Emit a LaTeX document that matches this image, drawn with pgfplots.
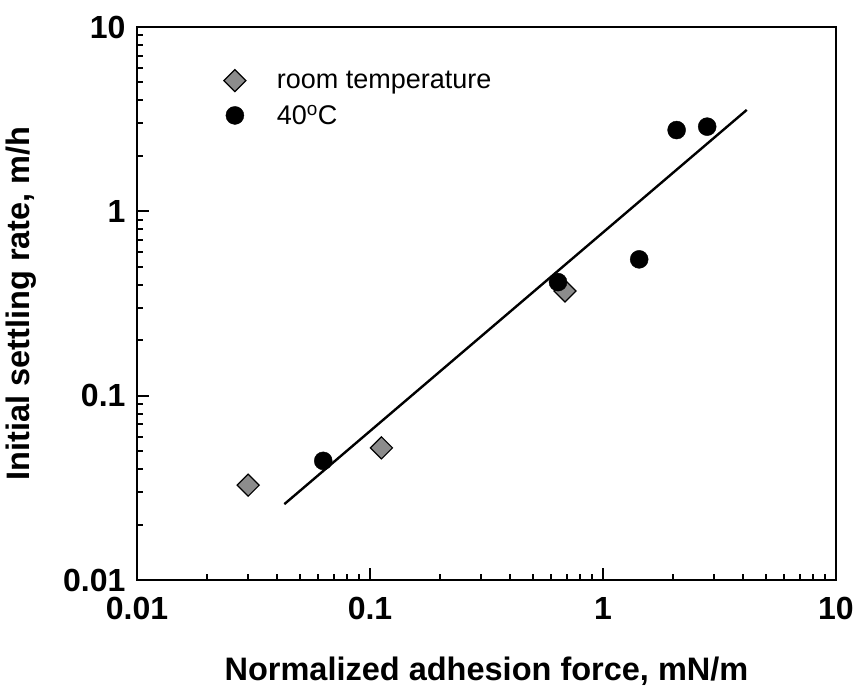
\documentclass[border=0pt]{standalone}
\usepackage{pgfplots}
\pgfplotsset{compat=1.18}
\usepackage{fontspec}
\setmainfont{Liberation Sans}

\begin{document}
\begin{tikzpicture}
\begin{axis}[
  at={(0pt,0pt)}, anchor=south west,
  scale only axis,
  width=699pt, height=553pt,
  xmode=log, ymode=log,
  xmin=0.01, xmax=10, ymin=0.01, ymax=10,
  axis line style={line width=2.6pt},
  xtick pos=bottom, ytick pos=left,
  tick align=inside,
  major tick length=12pt, minor tick length=6pt,
  every tick/.style={black, line width=2pt},
  xtick={0.01,0.1,1,10}, ytick={0.01,0.1,1,10},
  minor xtick={0.02,0.03,0.04,0.05,0.06,0.07,0.08,0.09,
               0.2,0.3,0.4,0.5,0.6,0.7,0.8,0.9,
               2,3,4,5,6,7,8,9},
  minor ytick={0.02,0.03,0.04,0.05,0.06,0.07,0.08,0.09,
               0.2,0.3,0.4,0.5,0.6,0.7,0.8,0.9,
               2,3,4,5,6,7,8,9},
  xticklabels={0.01,0.1,1,10}, yticklabels={0.01,0.1,1,10},
  tick label style={font=\fontsize{32}{34}\selectfont\bfseries},
  xticklabel style={yshift=-14pt},
  yticklabel style={xshift=-8pt},
  xlabel={Normalized adhesion force, mN/m},
  ylabel={Initial settling rate, m/h},
  label style={font=\fontsize{32.5}{35}\selectfont\bfseries},
  xlabel style={yshift=-30pt},
  ylabel style={yshift=20pt},
  legend style={at={(0.124,0.926)}, anchor=north west, draw=none, fill=none,
    font=\fontsize{27}{30}\selectfont, row sep=9pt, inner sep=0pt,
    nodes={inner sep=3pt},
    % gap between the marker column and the text column
    /tikz/every odd column/.append style={column sep=28pt}},
  legend cell align=left,
  clip=false,
]
% room temperature
\addplot[only marks, mark=square*, mark size=7.8pt,
  mark options={rotate=45, fill=black!45, draw=black, line width=1.2pt}]
  coordinates {(0.030,0.0327) (0.112,0.0521) (0.687,0.370)};
\addlegendentry{room temperature}
% 40 C
\addplot[only marks, mark=*, mark size=9pt,
  mark options={fill=black, draw=black}]
  coordinates {(0.063,0.0443) (0.641,0.413) (1.43,0.549) (2.07,2.76) (2.80,2.88)};
\addlegendentry{40\textsuperscript{o}C}
% power-law fit
\addplot[black, line width=2.4pt, forget plot]
  coordinates {(0.0429,0.0258) (4.14,3.55)};
\end{axis}
\path (-137pt,-104pt) rectangle (721pt,580pt);
\end{tikzpicture}
\end{document}
